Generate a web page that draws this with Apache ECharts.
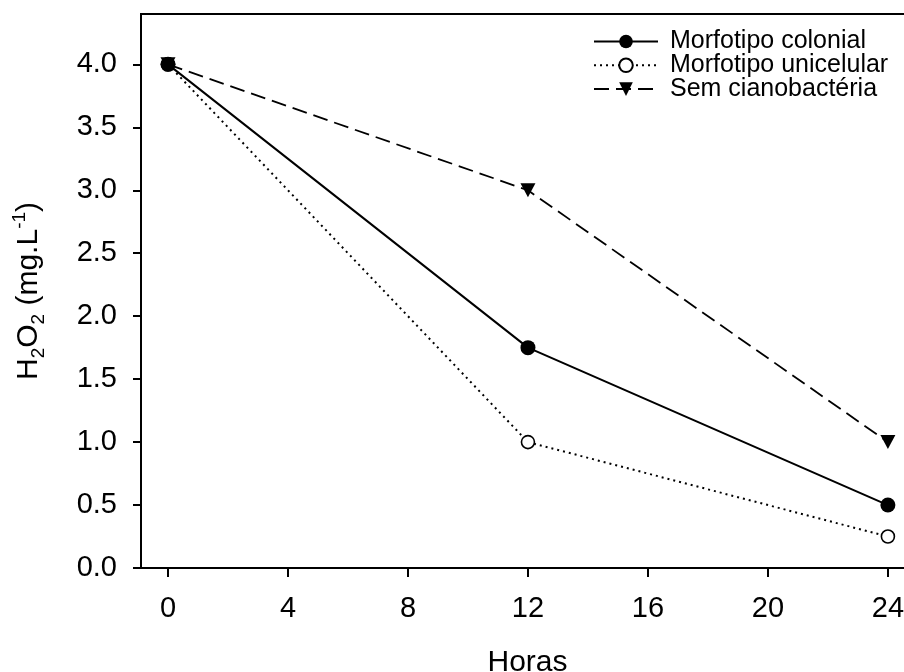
<!DOCTYPE html>
<html>
<head>
<meta charset="utf-8">
<script src="https://cdn.jsdelivr.net/npm/echarts@6/dist/echarts.min.js"></script>
<style>
  html, body { margin: 0; padding: 0; background: #fff; }
  #chart { width: 904px; height: 672px; }
</style>
</head>
<body>
<div id="chart"></div>
<script>
// Hours after exposure
const hours = [0, 12, 24];
// H2O2 concentration (mg.L-1) for each treatment
const colonial = [4.0, 1.75, 0.5];
const unicelular = [4.0, 1.0, 0.25];
const semCiano = [4.0, 3.0, 1.0];
// Tick values
const xTicks = [0, 4, 8, 12, 16, 20, 24];
const yTicks = [0, 0.5, 1, 1.5, 2, 2.5, 3, 3.5, 4];

const font = 'Liberation Sans, Arial, sans-serif';
const pair = (xs, ys) => xs.map((x, i) => [x, ys[i]]);
const triDown = 'path://M0,0 L12,0 L6,11 Z';

const chart = echarts.init(document.getElementById('chart'), null, { renderer: 'canvas' });

chart.setOption({
  backgroundColor: '#ffffff',
  animation: false,
  grid: {
    left: 141, top: 14, right: -10, bottom: 104,
    outerBoundsMode: 'none', containLabel: false,
    show: true, borderColor: '#000', borderWidth: 2, backgroundColor: 'transparent'
  },
  legend: {
    orient: 'vertical',
    left: 593, top: 29, padding: 0,
    itemWidth: 64, itemHeight: 17, itemGap: -1.2,
    data: ['Morfotipo colonial', 'Morfotipo unicelular', 'Sem cianobactéria'],
    textStyle: { fontFamily: font, fontSize: 25, color: '#000', padding: [0, 0, 0, 7] }
  },
  xAxis: {
    type: 'value', min: -0.9, max: 24.87,
    name: 'Horas', nameLocation: 'middle', nameGap: 80,
    nameTextStyle: { fontFamily: font, fontSize: 30, color: '#000' },
    axisLine: { onZero: false, lineStyle: { color: '#000', width: 2 } },
    axisTick: { show: true, inside: false, length: 9, customValues: xTicks, lineStyle: { color: '#000', width: 2 } },
    axisLabel: { customValues: xTicks, margin: 26, fontFamily: font, fontSize: 29, color: '#000' },
    splitLine: { show: false }
  },
  yAxis: {
    type: 'value', min: 0, max: 4.4,
    name: '{t|H}{s|2}{t|O}{s|2}{t| (mg.L}{p|-1}{t|)}',
    nameLocation: 'middle', nameGap: 93, nameRotate: 90,
    nameTextStyle: {
      fontFamily: font, fontSize: 30, color: '#000',
      rich: {
        t: { fontFamily: font, fontSize: 30, color: '#000', lineHeight: 38, verticalAlign: 'bottom', padding: [0, 0, 4, 0] },
        s: { fontFamily: font, fontSize: 19, color: '#000', lineHeight: 38, verticalAlign: 'bottom', padding: [0, 0, 0, 0] },
        p: { fontFamily: font, fontSize: 19, color: '#000', lineHeight: 38, verticalAlign: 'bottom', padding: [0, 0, 19, 0] }
      }
    },
    axisLine: { onZero: false, lineStyle: { color: '#000', width: 2 } },
    axisTick: { show: true, inside: false, length: 8, customValues: yTicks, lineStyle: { color: '#000', width: 2 } },
    axisLabel: {
      customValues: yTicks, margin: 24, fontFamily: font, fontSize: 29, color: '#000',
      formatter: v => v.toFixed(1)
    },
    splitLine: { show: false }
  },
  series: [
    {
      name: 'Sem cianobactéria', type: 'line', z: 2,
      data: pair(hours, semCiano),
      symbol: triDown, symbolSize: [15, 14],
      itemStyle: { color: '#000', borderWidth: 0 },
      lineStyle: { color: '#000', width: 1.8, type: [15, 7] }
    },
    {
      name: 'Morfotipo unicelular', type: 'line', z: 3,
      data: pair(hours, unicelular),
      symbol: 'circle', symbolSize: 13,
      itemStyle: { color: '#fff', borderColor: '#000', borderWidth: 1.6 },
      lineStyle: { color: '#000', width: 2, type: [2, 4] }
    },
    {
      name: 'Morfotipo colonial', type: 'line', z: 4,
      data: pair(hours, colonial),
      symbol: 'circle', symbolSize: 15,
      itemStyle: { color: '#000', borderWidth: 0 },
      lineStyle: { color: '#000', width: 2 }
    }
  ]
});
</script>
</body>
</html>
